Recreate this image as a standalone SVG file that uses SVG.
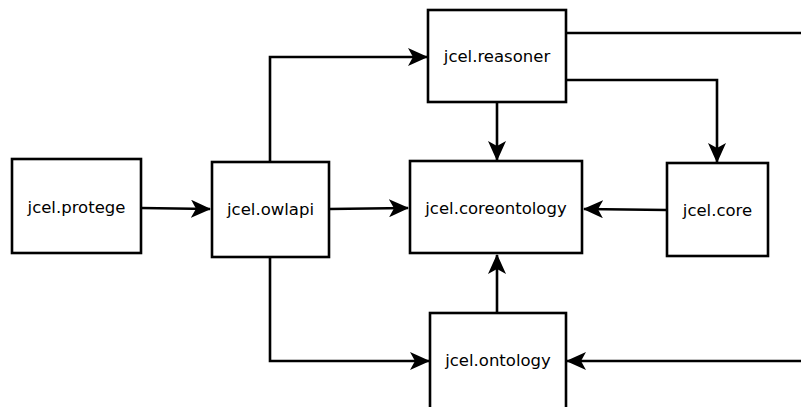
<svg xmlns="http://www.w3.org/2000/svg" width="801" height="407" viewBox="0 0 801 407">
<style>
.box{fill:#fff;stroke:#000;stroke-width:2.6}
.lbl{font-family:"DejaVu Sans",sans-serif;font-size:16.5px;fill:#000;text-anchor:middle;dominant-baseline:central}
.edge{fill:none;stroke:#000;stroke-width:2.6}
</style>
<defs>
<marker id="arr" viewBox="0 0 20 18" refX="19" refY="9" markerWidth="20" markerHeight="18" markerUnits="userSpaceOnUse" orient="auto">
<path d="M0,0 L20,9 L0,18 L5,9 Z" fill="#000"/>
</marker>
</defs>
<rect width="801" height="407" fill="#fff"/>
<g id="connectors">
<path class="edge" d="M141,208 L210,209" marker-end="url(#arr)"/>
<path class="edge" d="M329,209 L408,208" marker-end="url(#arr)"/>
<path class="edge" d="M270,162 L270,57 L427,57" marker-end="url(#arr)"/>
<path class="edge" d="M270,257 L270,361 L429,361" marker-end="url(#arr)"/>
<path class="edge" d="M497,102 L497,160" marker-end="url(#arr)"/>
<path class="edge" d="M566,80 L717,80 L717,162" marker-end="url(#arr)"/>
<path class="edge" d="M566,33 L801,33"/>
<path class="edge" d="M667,210 L584,209" marker-end="url(#arr)"/>
<path class="edge" d="M497,313 L497,255" marker-end="url(#arr)"/>
<path class="edge" d="M801,361 L567,361" marker-end="url(#arr)"/>
</g>
<g id="protege"><rect class="box" x="12" y="159" width="129" height="94"/><text class="lbl" x="76.5" y="207">jcel.protege</text></g>
<g id="owlapi"><rect class="box" x="212" y="162" width="117" height="95"/><text class="lbl" x="270.5" y="209">jcel.owlapi</text></g>
<g id="reasoner"><rect class="box" x="428" y="10" width="138" height="92"/><text class="lbl" x="497" y="56">jcel.reasoner</text></g>
<g id="coreontology"><rect class="box" x="410" y="161" width="172" height="92"/><text class="lbl" x="496" y="208">jcel.coreontology</text></g>
<g id="core"><rect class="box" x="667" y="163" width="101" height="93"/><text class="lbl" x="717.5" y="210">jcel.core</text></g>
<g id="ontology"><rect class="box" x="430" y="313" width="136" height="100"/><text class="lbl" x="498" y="360">jcel.ontology</text></g>
</svg>
